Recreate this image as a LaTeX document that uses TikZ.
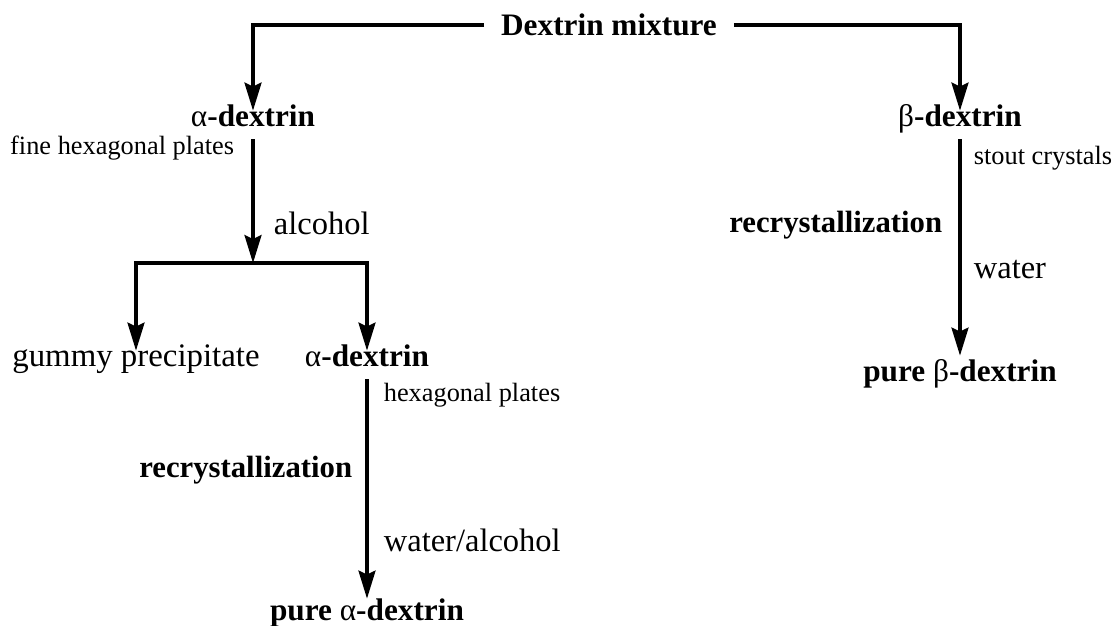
\documentclass[tikz,border=0pt]{standalone}
\usepackage{fontspec}
\setmainfont{Liberation Serif}
\usetikzlibrary{arrows.meta,positioning}

\begin{document}
\begin{tikzpicture}[x=0.02cm, y=-0.02cm,
  prod/.style={inner xsep=6pt, inner ysep=2pt, text height=0.71em, text depth=0.49em, font=\fontsize{17.8}{20}\selectfont\bfseries},
  plainprod/.style={prod, font=\fontsize{18.7}{21}\selectfont},
  start/.style={inner xsep=9.5pt, inner ysep=2pt, font=\fontsize{17.8}{20}\selectfont\bfseries},
  cond/.style={inner sep=2pt, font=\fontsize{17.5}{20}\selectfont\bfseries},
  solv/.style={inner sep=2pt, font=\fontsize{18.5}{21}\selectfont},
  note/.style={inner sep=2pt, font=\fontsize{15}{18}\selectfont},
  arr/.style={-{Stealth[length=0.56cm, width=0.34cm, inset=0.08cm]}, line width=1.8pt}
]
  \useasboundingbox (0,0) rectangle (1117,626);

  % starting material and the two dextrins
  \node[start] (mix) at (609,25) {Dextrin mixture};
  \node[prod] (a1) at (253,125) {\textmd{α}-dextrin};
  \node[prod] (b1) at (960,125) {\textmd{β}-dextrin};
  \draw[arr] (mix.west) -| (a1.north);
  \draw[arr] (mix.east) -| (b1.north);

  % alpha branch
  \node[note, anchor=east] (fhp) at (238,148) {fine hexagonal plates};
  \coordinate (split) at (253,263);
  \draw[arr] (a1.south) -- (split);
  \node[solv, anchor=west] (alc) at (270,223) {alcohol};

  \node[plainprod] (gum) at (136,365) {gummy precipitate};
  \node[prod] (a2) at (367,365) {\textmd{α}-dextrin};
  \draw[arr] (split) -| (gum.north);
  \draw[arr] (split) -| (a2.north);

  \node[note, anchor=west] (hp) at (380,395) {hexagonal plates};
  \node[prod] (pa) at (367,619) {pure \textmd{α}-dextrin};
  \draw[arr, shorten >=0.12cm] (a2.south) -- (pa.north);
  \node[cond, anchor=east] (rca) at (356,470) {recrystallization};
  \node[solv, anchor=west] (wa) at (380,540) {water/alcohol};

  % beta branch
  \node[note, anchor=west] (sc) at (970,158) {stout crystals};
  \node[prod] (pb) at (960,380) {pure \textmd{β}-dextrin};
  \draw[arr, shorten >=0.2cm] (b1.south) -- (pb.north);
  \node[cond, anchor=east] (rcb) at (946,225) {recrystallization};
  \node[solv, anchor=west] (wb) at (970,270) {water};
\end{tikzpicture}
\end{document}
